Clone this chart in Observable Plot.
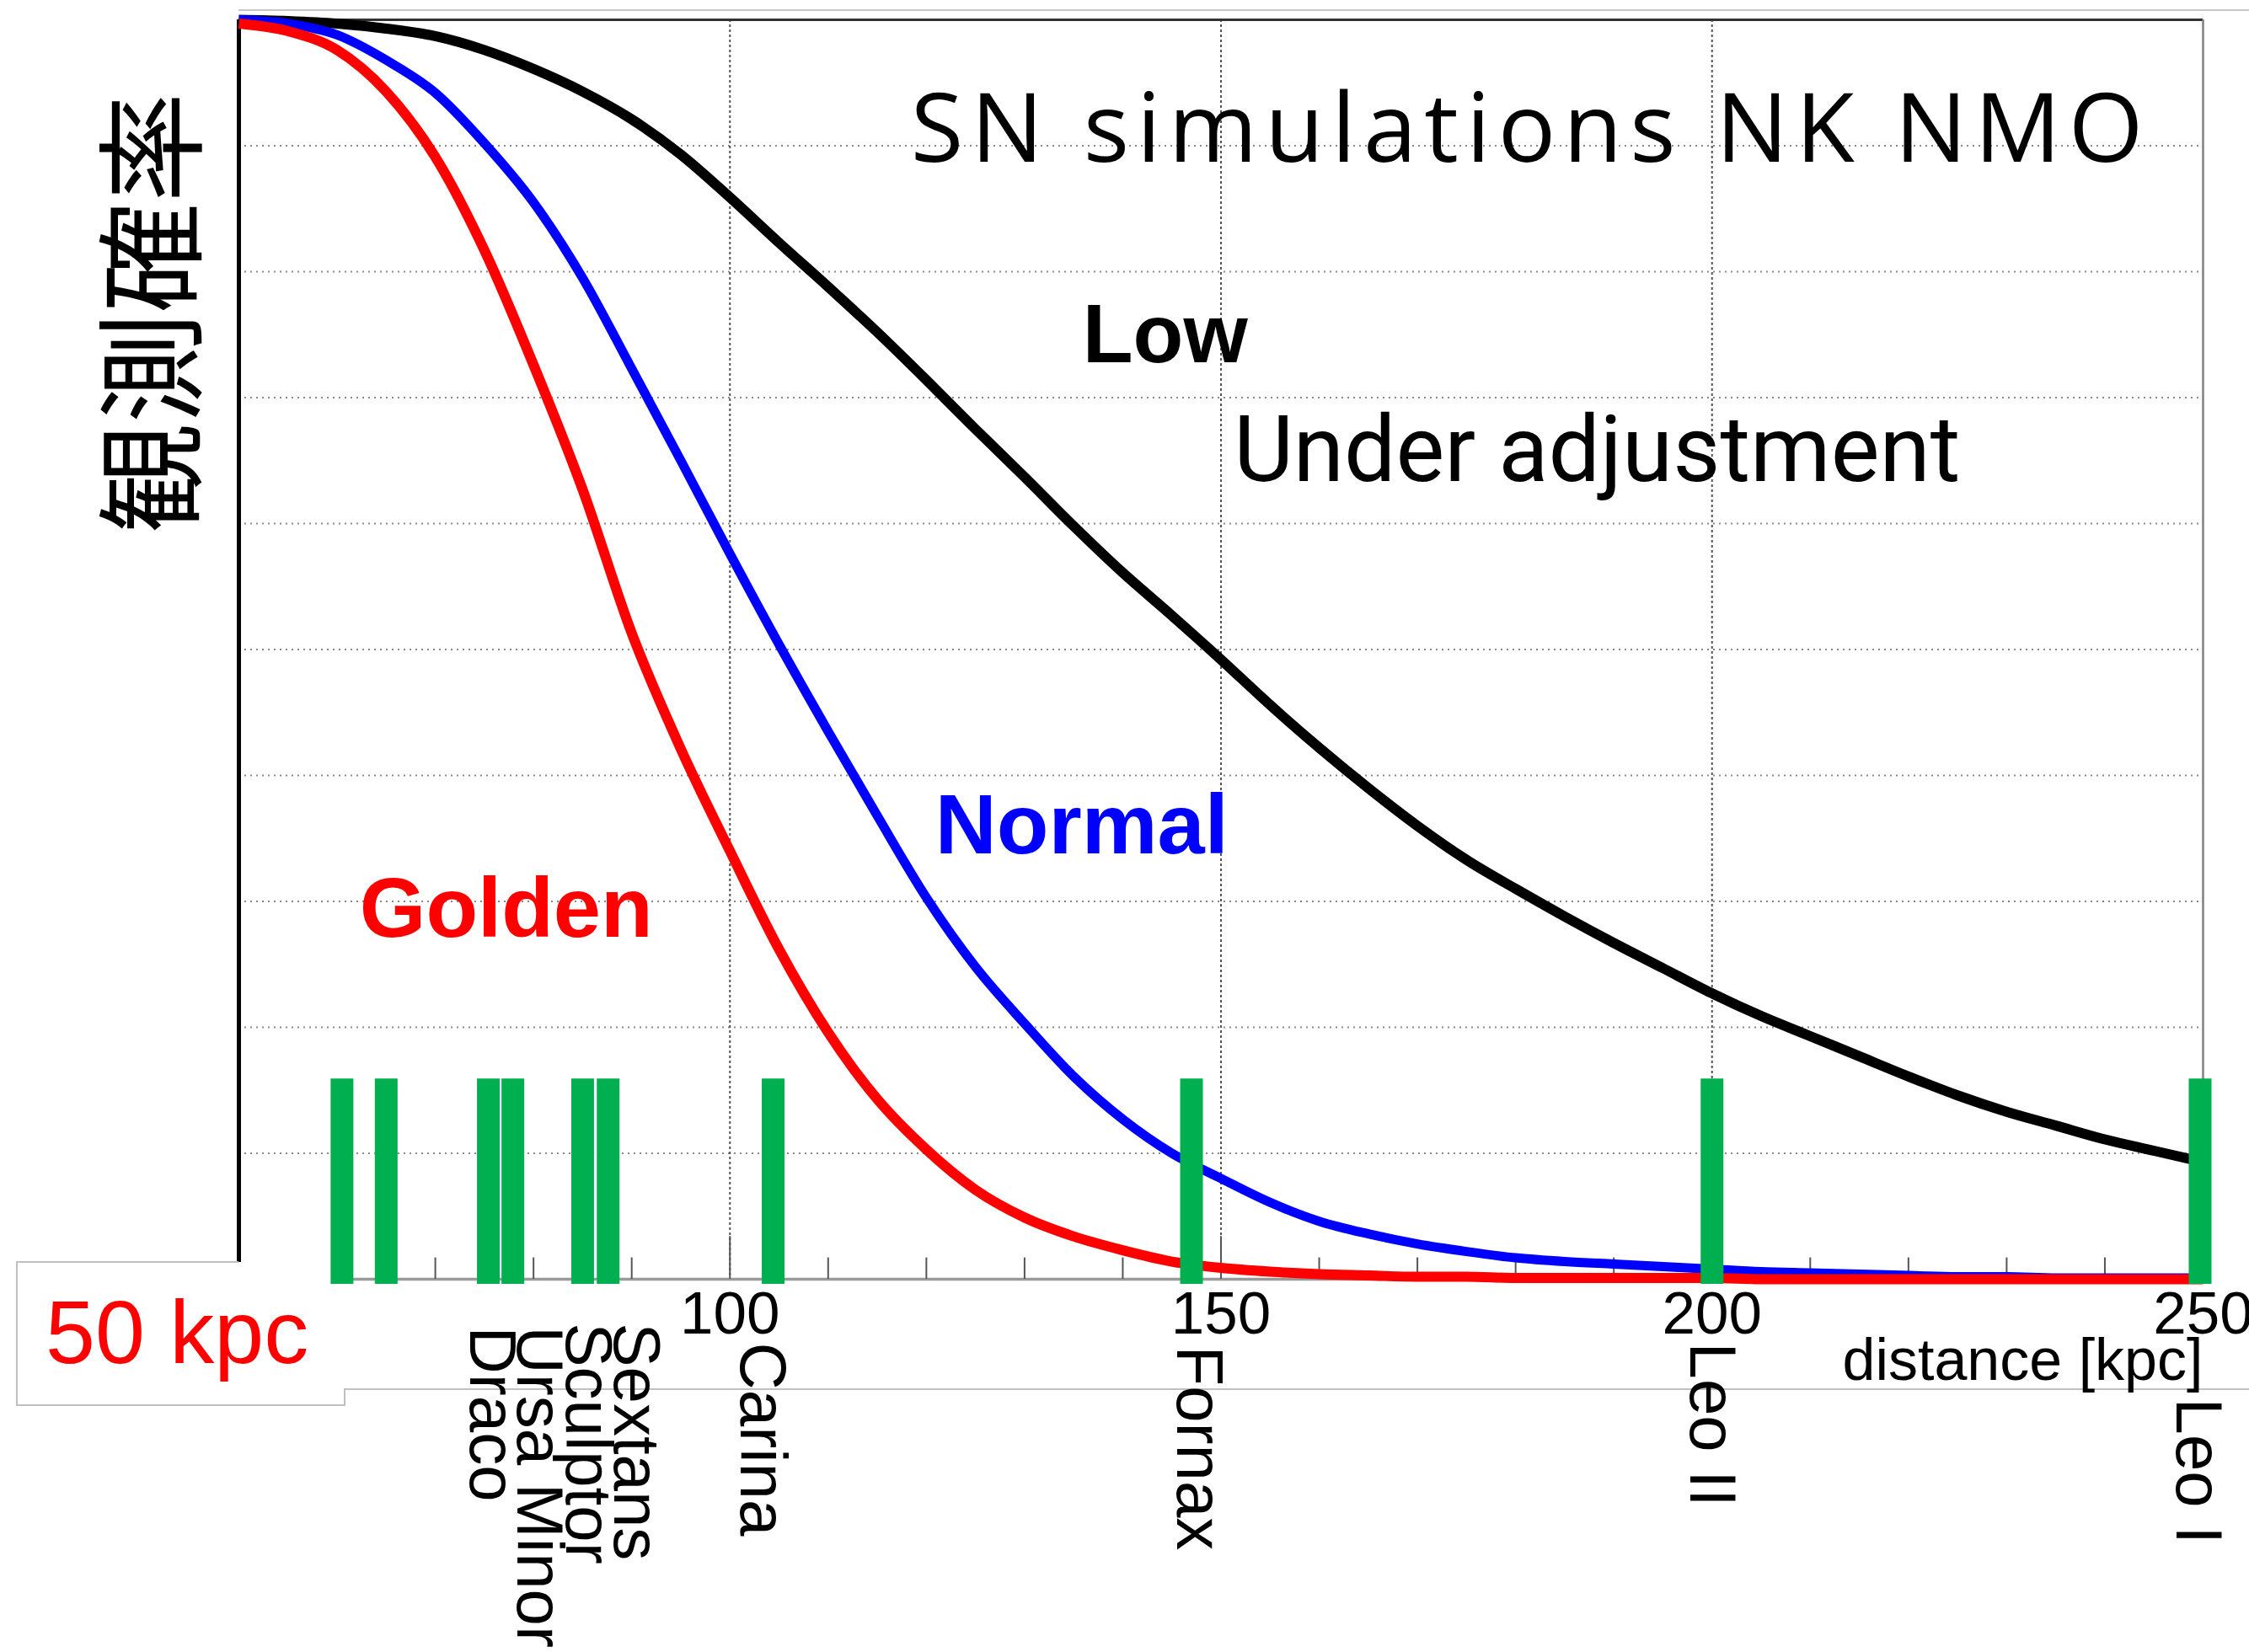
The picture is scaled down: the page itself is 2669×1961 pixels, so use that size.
<!DOCTYPE html>
<html>
<head>
<meta charset="utf-8">
<script src="https://cdn.jsdelivr.net/npm/d3@7"></script>
<script src="https://cdn.jsdelivr.net/npm/@observablehq/plot@0.6"></script>
<style>
  html, body { margin: 0; padding: 0; background: #fff; }
  #wrap { position: relative; width: 2669px; height: 1961px; overflow: hidden; background: #fff; }
  #chart { position: absolute; left: 0; top: 0; }
  #chart svg { display: block; }
  .deco { position: absolute; box-sizing: border-box; }
</style>
</head>
<body>
<div id="wrap">
  <div class="deco" style="left:283px;top:11px;width:2386px;height:0;border-top:2px solid #c8c8c8"></div>
  <div id="chart"></div>
  <div class="deco" id="kpc" style="left:54px;top:1528px;color:#ff0000;font-family:'Liberation Sans',Arial,sans-serif;font-size:106px;line-height:1;white-space:nowrap">50 kpc</div>
</div>
<script>
// ---- data ----
const distance = [50,55,60,65,70,75,80,85,90,95,100,105,110,115,120,125,130,135,140,145,150,
                  155,160,165,170,175,180,185,190,195,200,205,210,215,220,225,230,235,240,245,250];
const lowProb = [1.000,0.999,0.997,0.993,0.987,0.976,0.961,0.943,0.921,0.893,0.859,0.823,0.788,0.752,0.714,
                 0.675,0.637,0.598,0.561,0.527,0.492,0.456,0.422,0.390,0.360,0.333,0.310,0.288,0.267,0.247,
                 0.227,0.209,0.193,0.177,0.161,0.146,0.133,0.122,0.111,0.102,0.093];
const normalProb = [1.000,0.997,0.988,0.968,0.942,0.902,0.855,0.795,0.723,0.650,0.576,0.504,0.435,0.368,0.303,
                    0.248,0.203,0.161,0.127,0.100,0.080,0.061,0.046,0.036,0.028,0.022,0.017,0.014,0.012,0.010,
                    0.008,0.006,0.005,0.004,0.003,0.002,0.002,0.001,0.001,0.001,0.001];
const goldenProb = [0.997,0.991,0.976,0.943,0.891,0.817,0.726,0.627,0.513,0.421,0.340,0.262,0.196,0.143,0.103,
                    0.071,0.049,0.034,0.023,0.014,0.009,0.006,0.004,0.003,0.002,0.002,0.001,0.001,0.001,0.001,
                    0.001,0.000,0.000,0.000,0.000,0.000,0.000,0.000,0.000,0.000,0.000];
const galaxyDistance = [60.5, 65.0, 75.4, 77.9, 85.0, 87.6, 104.4, 147.0, 200.0, 249.7];
const galaxyNames = ["Draco", "Ursa Minor", "Sculptor", "Sextans", "Carina", "Fornax", "Leo II", "Leo I"];
const xTickLabels = [100, 150, 200, 250];
const xMinorTicks = [60,70,80,90,110,120,130,140,160,170,180,190,210,220,230,240];
const yGrid = [0.1,0.2,0.3,0.4,0.5,0.6,0.7,0.8,0.9];
const xGrid = [100, 150, 200];
const titleText = "SN simulations NK NMO";

// ---- tables built from the arrays ----
const curves = [
  {name: "Low", color: "#000000", width: 12, values: lowProb},
  {name: "Normal", color: "#0000ff", width: 11, values: normalProb},
  {name: "Golden", color: "#ff0000", width: 12, values: goldenProb}
];
const rows = curves.map(c => distance.map((d, i) => ({d, p: c.values[i]})));

// label placement (annotation positions)
const galaxyLabelPlacement = [
  {name: galaxyNames[0], at: 75.7, drop: 56},
  {name: galaxyNames[1], at: 80.5, drop: 56},
  {name: galaxyNames[2], at: 85.5, drop: 52},
  {name: galaxyNames[3], at: 90.4, drop: 52},
  {name: galaxyNames[4], at: 103.2, drop: 75},
  {name: galaxyNames[5], at: 147.7, drop: 79},
  {name: galaxyNames[6], at: 199.9, drop: 75},
  {name: galaxyNames[7], at: 249.4, drop: 141}
];

const sans = "'Liberation Sans', Arial, Helvetica, sans-serif";

const chart = Plot.plot({
  width: 2669,
  height: 1961,
  marginLeft: 283,
  marginRight: 55,
  marginTop: 23,
  marginBottom: 443,
  style: {background: "none", fontFamily: sans, overflow: "visible"},
  x: {domain: [50, 250], axis: null},
  y: {domain: [0, 1], axis: null},
  marks: [
    // grid
    Plot.ruleY(yGrid, {stroke: "#8a8a8a", strokeWidth: 2, strokeDasharray: "2,5"}),
    Plot.ruleX(xGrid, {stroke: "#555", strokeWidth: 2, strokeDasharray: "3,3"}),
    // frame
    Plot.ruleY([1], {stroke: "#333", strokeWidth: 3}),
    Plot.ruleX([250], {stroke: "#808080", strokeWidth: 2.5}),
    Plot.ruleY([0], {stroke: "#9a9a9a", strokeWidth: 3.5}),
    Plot.ruleX([50], {stroke: "#000", strokeWidth: 5}),
    // tick marks (inside)
    Plot.ruleX(xMinorTicks, {y1: 0, y2: 0.017, stroke: "#555", strokeWidth: 2}),
    Plot.ruleX(xTickLabels, {y1: 0, y2: 0.034, stroke: "#555", strokeWidth: 2}),
    // curves
    ...curves.map((c, i) => Plot.line(rows[i], {
      x: "d", y: "p", stroke: c.color, strokeWidth: c.width, curve: "monotone-x",
      strokeLinejoin: "round", strokeLinecap: "butt"
    })),
    // galaxy markers
    Plot.ruleX(galaxyDistance, {y1: -0.004, y2: 0.159, stroke: "#00b050", strokeWidth: 27}),
    // x tick labels
    Plot.axisX(xTickLabels, {anchor: "bottom", tickSize: 0, tickPadding: 14, fontSize: 71,
      fill: "#000", label: null, tickFormat: d => String(d), fontFamily: sans}),
    Plot.text(["distance [kpc]"], {frameAnchor: "bottom-right", dy: 119, textAnchor: "end",
      lineAnchor: "bottom", fontSize: 70, fill: "#000", fontFamily: sans}),
    // galaxy names
    ...galaxyLabelPlacement.map(g => Plot.text([g], {
      x: "at", y: () => 0, text: "name", rotate: 90, textAnchor: "start", lineAnchor: "middle",
      dy: g.drop, fontSize: 78, fill: "#000", fontFamily: sans
    })),
    // y-axis label
    Plot.text(["観測確率"], {frameAnchor: "top-left", dx: -97, dy: 348, rotate: -90,
      textAnchor: "middle", lineAnchor: "middle", fontSize: 131, fill: "#000",
      fontFamily: "'Noto Sans CJK JP', 'Noto Sans CJK SC', sans-serif", fontWeight: 400}),
    // title & annotations
    Plot.text([titleText], {x: () => 118.4, y: () => 0.887, textAnchor: "start", lineAnchor: "bottom",
      fontSize: 114, fill: "#000", fontFamily: "'Open Sans', 'Noto Sans', sans-serif"}),
    Plot.text(["Low"], {x: () => 135.9, y: () => 0.728, textAnchor: "start", lineAnchor: "bottom",
      fontSize: 98, fontWeight: "bold", fill: "#000", fontFamily: sans}),
    Plot.text(["Under adjustment"], {x: () => 151.3, y: () => 0.634, textAnchor: "start", lineAnchor: "bottom",
      fontSize: 109, fill: "#000", fontFamily: "Roboto, 'Liberation Sans', sans-serif"}),
    Plot.text(["Normal"], {x: () => 120.9, y: () => 0.338, textAnchor: "start", lineAnchor: "bottom",
      fontSize: 101, fontWeight: "bold", fill: "#0000ff", fontFamily: sans}),
    Plot.text(["Golden"], {x: () => 62.3, y: () => 0.272, textAnchor: "start", lineAnchor: "bottom",
      fontSize: 101, fontWeight: "bold", fill: "#ff0000", fontFamily: sans})
  ]
});

const svg = d3.select(chart);
svg.selectAll("text")
  .filter(function () { return this.textContent === titleText; })
  .style("letter-spacing", "9px");

// white "50 kpc" label panel and slide border, drawn beneath the green markers
const barsGroup = svg.selectAll("g").filter(function () {
  return this.getAttribute("stroke") === "#00b050";
}).node();
if (barsGroup) {
  const parent = barsGroup.parentNode;
  const rect = document.createElementNS("http://www.w3.org/2000/svg", "rect");
  rect.setAttribute("x", 20); rect.setAttribute("y", 1498);
  rect.setAttribute("width", 389); rect.setAttribute("height", 170);
  rect.setAttribute("fill", "#fff");
  parent.insertBefore(rect, barsGroup);
  const path = document.createElementNS("http://www.w3.org/2000/svg", "path");
  path.setAttribute("d", "M283,1498H20V1668H409V1649H2669");
  path.setAttribute("fill", "none");
  path.setAttribute("stroke", "#c0c0c0");
  path.setAttribute("stroke-width", 2);
  parent.insertBefore(path, barsGroup);
}

document.getElementById("chart").append(chart);
</script>
</body>
</html>
